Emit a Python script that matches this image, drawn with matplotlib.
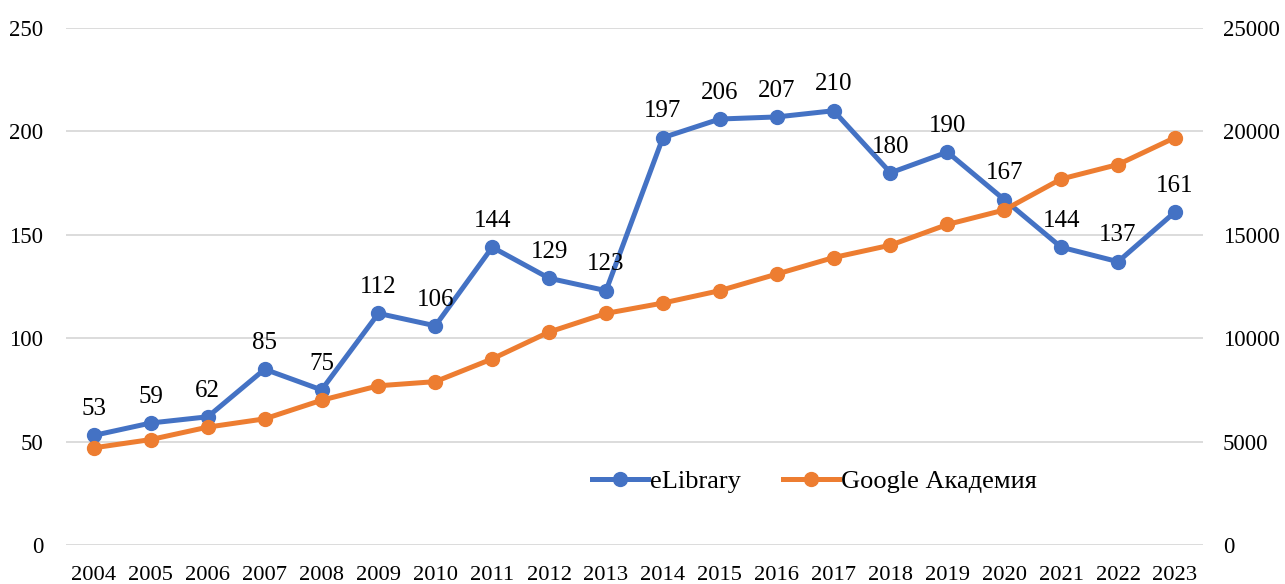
import matplotlib.pyplot as plt
from matplotlib.ticker import MultipleLocator

years = ['2004', '2005', '2006', '2007', '2008', '2009', '2010', '2011', '2012', '2013',
         '2014', '2015', '2016', '2017', '2018', '2019', '2020', '2021', '2022', '2023']
elibrary = [53, 59, 62, 85, 75, 112, 106, 144, 129, 123,
            197, 206, 207, 210, 180, 190, 167, 144, 137, 161]
google = [4700, 5100, 5700, 6100, 7000, 7700, 7900, 9000, 10300, 11200,
          11700, 12300, 13100, 13900, 14500, 15500, 16200, 17700, 18400, 19700]

plt.rcParams['font.family'] = ['Liberation Serif', 'DejaVu Serif']

blue = '#4472C4'
orange = '#ED7D31'

fig = plt.figure(figsize=(12.85, 5.84), dpi=100)
ax = fig.add_axes([0.051, 0.0668, 0.8855, 0.8852])
ax2 = ax.twinx()

x = list(range(len(years)))
l1, = ax.plot(x, elibrary, color=blue, lw=3.6, marker='o', ms=10, label='eLibrary')
l2, = ax2.plot(x, google, color=orange, lw=3.6, marker='o', ms=10, label='Google Академия')

for xi, v in zip(x, elibrary):
    ax.annotate(str(v), (xi, v), xytext=(0, 11), textcoords='offset points',
                ha='center', va='bottom', fontsize=18)

ax.set_xlim(-0.5, len(years) - 0.5)
ax.set_ylim(0, 250)
ax2.set_ylim(0, 25000)
ax.yaxis.set_major_locator(MultipleLocator(50))
ax2.yaxis.set_major_locator(MultipleLocator(5000))
ax.set_xticks(x)
ax.set_xticklabels(years)

ax.grid(axis='y', color='#D9D9D9', lw=1.3)
ax.set_axisbelow(True)
for a in (ax, ax2):
    for s in a.spines.values():
        s.set_visible(False)
    a.tick_params(length=0, labelsize=16.5)
ax.tick_params(axis='y', pad=16)
ax2.tick_params(axis='y', pad=14)
ax.tick_params(axis='x', pad=15, labelsize=16.2)

ax2.legend(handles=[l1, l2], loc='center', bbox_to_anchor=(0.634, 0.176),
           bbox_transform=fig.transFigure, ncol=2, frameon=False, fontsize=19,
           handlelength=2.1, columnspacing=1.6, handletextpad=0.1)

fig.savefig('out.png', dpi=100)
